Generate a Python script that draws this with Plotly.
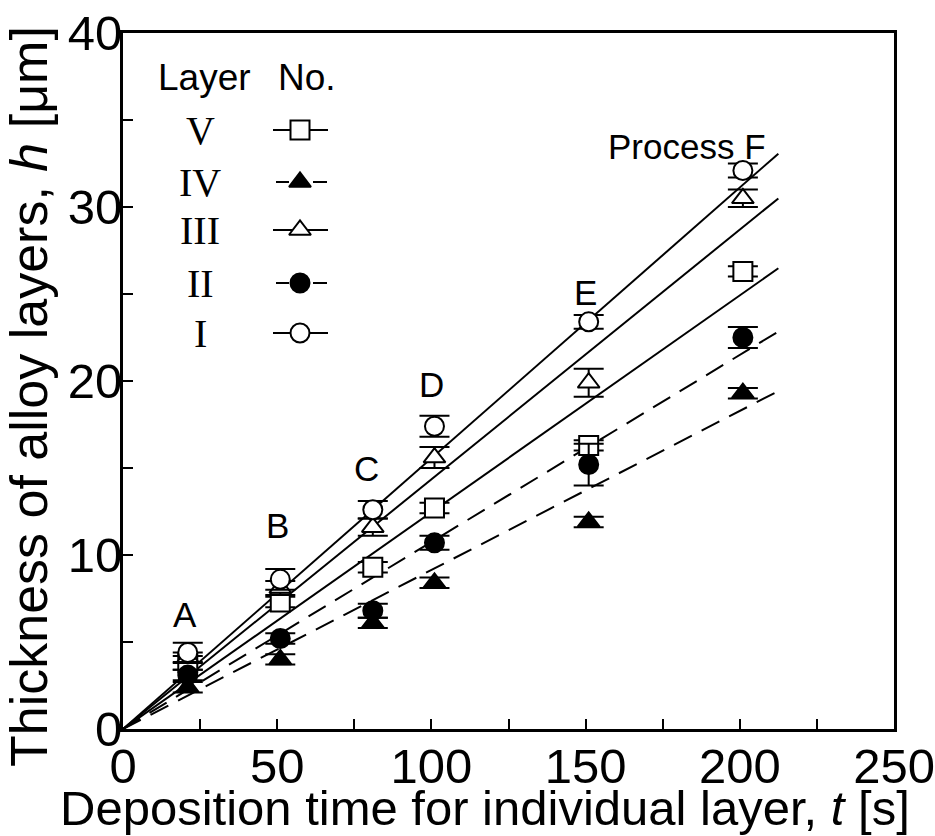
import plotly.graph_objects as go

# ---------------- data ----------------
t_values = [21, 51, 81, 101, 151, 201]
process_labels = ["A", "B", "C", "D", "E", "Process F"]
label_y = [6.6, 11.7, 15.0, 19.8, 25.1, 33.5]
label_x = [20, 50, 79, 100, 150, 183]

layer_names = ["V", "IV", "III", "II", "I"]
h_V = [3.8, 7.3, 9.3, 12.7, 16.3, 26.3]
h_IV = [2.4, 4.0, 6.1, 8.4, 11.9, 19.3]
h_III = [4.1, 8.1, 11.6, 15.6, 19.9, 30.5]
h_II = [3.1, 5.2, 6.8, 10.7, 15.2, 22.5]
h_I = [4.4, 8.6, 12.6, 17.4, 23.4, 32.1]

err_V = [0.4, 0.3, 0.3, 0.3, 0.3, 0.3]
err_IV = [0.3, 0.3, 0.3, 0.3, 0.3, 0.3]
err_III = [0.3, 0.4, 0.5, 0.6, 0.8, 0.5]
err_II = [0.3, 0.3, 0.4, 0.4, 1.2, 0.6]
err_I = [0.55, 0.6, 0.5, 0.6, 0.4, 0.4]

# fitted lines through the origin: slope [um/s]
fit_slopes = {"V": 0.1246, "IV": 0.0914, "III": 0.1435, "II": 0.1075, "I": 0.1556}
fit_t_end = 212.5

x_ticks = [0, 50, 100, 150, 200, 250]
y_ticks = [0, 10, 20, 30, 40]

x_title = "Deposition time for individual layer, <i>t</i> [s]"
y_title = "Thickness of alloy layers, <i>h</i> [μm]"

# ---------------- styles ----------------
series = [
    ("V", h_V, err_V, "square", "white", "solid"),
    ("IV", h_IV, err_IV, "triangle-up", "black", "20px,11px"),
    ("III", h_III, err_III, "triangle-up", "white", "solid"),
    ("II", h_II, err_II, "circle", "black", "20px,11px"),
    ("I", h_I, err_I, "circle", "white", "solid"),
]

FONT = "Liberation Sans, Arial, sans-serif"
SERIF = "Liberation Serif, Times New Roman, serif"

fig = go.Figure()

# fit lines
for name, h, err, sym, fill, dash in series:
    s = fit_slopes[name]
    fig.add_trace(go.Scatter(
        x=[0, fit_t_end], y=[0, s * fit_t_end], mode="lines",
        line=dict(color="black", width=2, dash=dash),
        showlegend=False, hoverinfo="skip"))

# markers with error bars
for name, h, err, sym, fill, dash in series:
    fig.add_trace(go.Scatter(
        x=t_values, y=h, mode="markers",
        marker=dict(size=19, symbol=sym, color=fill, line=dict(color="black", width=2)),
        error_y=dict(type="data", array=err, visible=True,
                     color="black", thickness=2, width=15),
        showlegend=False, name=name))

# process labels
for lx, ly, txt in zip(label_x, label_y, process_labels):
    fig.add_annotation(x=lx, y=ly, text=txt, showarrow=False,
                       font=dict(family=FONT, size=35, color="black"),
                       xanchor="center", yanchor="middle")

# ---------------- custom legend (overlay axis in plot-area pixels) ----------------
leg_rows_y = [97, 149, 197, 250, 300]
leg_sym_x = 177
leg_num_x = 77
for (name, h, err, sym, fill, dash), ry in zip(series, leg_rows_y):
    if dash == "solid":
        lx, ly = [150, 205], [ry, ry]
    else:
        lx, ly = [153, 166, None, 190, 204], [ry, ry, None, ry, ry]
    fig.add_trace(go.Scatter(x=lx, y=ly, mode="lines", xaxis="x2", yaxis="y2",
                             line=dict(color="black", width=2),
                             showlegend=False, hoverinfo="skip"))
    fig.add_trace(go.Scatter(x=[leg_sym_x], y=[ry], mode="markers", xaxis="x2", yaxis="y2",
                             marker=dict(size=19, symbol=sym, color=fill,
                                         line=dict(color="black", width=2)),
                             showlegend=False, hoverinfo="skip"))
    fig.add_annotation(x=leg_num_x, y=ry, xref="x2", yref="y2", text=name,
                       showarrow=False, font=dict(family=SERIF, size=40, color="black"),
                       xanchor="center", yanchor="middle")

fig.add_annotation(x=81, y=44, xref="x2", yref="y2", text="Layer", showarrow=False,
                   font=dict(family=FONT, size=37, color="black"))
fig.add_annotation(x=184, y=44, xref="x2", yref="y2", text="No.", showarrow=False,
                   font=dict(family=FONT, size=37, color="black"))

# axis titles
fig.add_annotation(x=0.4695, y=-0.113, xref="paper", yref="paper", text=x_title,
                   showarrow=False, xanchor="center", yanchor="middle",
                   font=dict(family=FONT, size=49, color="black"))
fig.add_annotation(x=-0.121, y=0.478, xref="paper", yref="paper", text=y_title,
                   showarrow=False, xanchor="center", yanchor="middle", textangle=-90,
                   font=dict(family=FONT, size=52, color="black"))

axis_common = dict(
    showgrid=False, zeroline=False, showline=True, linecolor="black", linewidth=3,
    mirror=True, ticks="inside", ticklen=10, tickwidth=2, tickcolor="black",
    tickfont=dict(family=FONT, size=49, color="black"), automargin=False,
)

fig.update_layout(
    width=935, height=836,
    margin=dict(l=123, r=41, t=33, b=107),
    paper_bgcolor="white", plot_bgcolor="white",
    font=dict(family=FONT, color="black"),
    xaxis=dict(range=[0, 250], tickvals=x_ticks, ticklabelstandoff=-8,
               minor=dict(dtick=25, ticks="inside", ticklen=10, tickwidth=2, tickcolor="black"),
               **axis_common),
    yaxis=dict(range=[0, 40], tickvals=y_ticks, ticklabelstandoff=-12,
               minor=dict(dtick=5, ticks="inside", ticklen=10, tickwidth=2, tickcolor="black"),
               **axis_common),
    xaxis2=dict(overlaying="x", range=[0, 771], visible=False, fixedrange=True),
    yaxis2=dict(overlaying="y", range=[696, 0], visible=False, fixedrange=True),
)

fig.write_html("out.html")
